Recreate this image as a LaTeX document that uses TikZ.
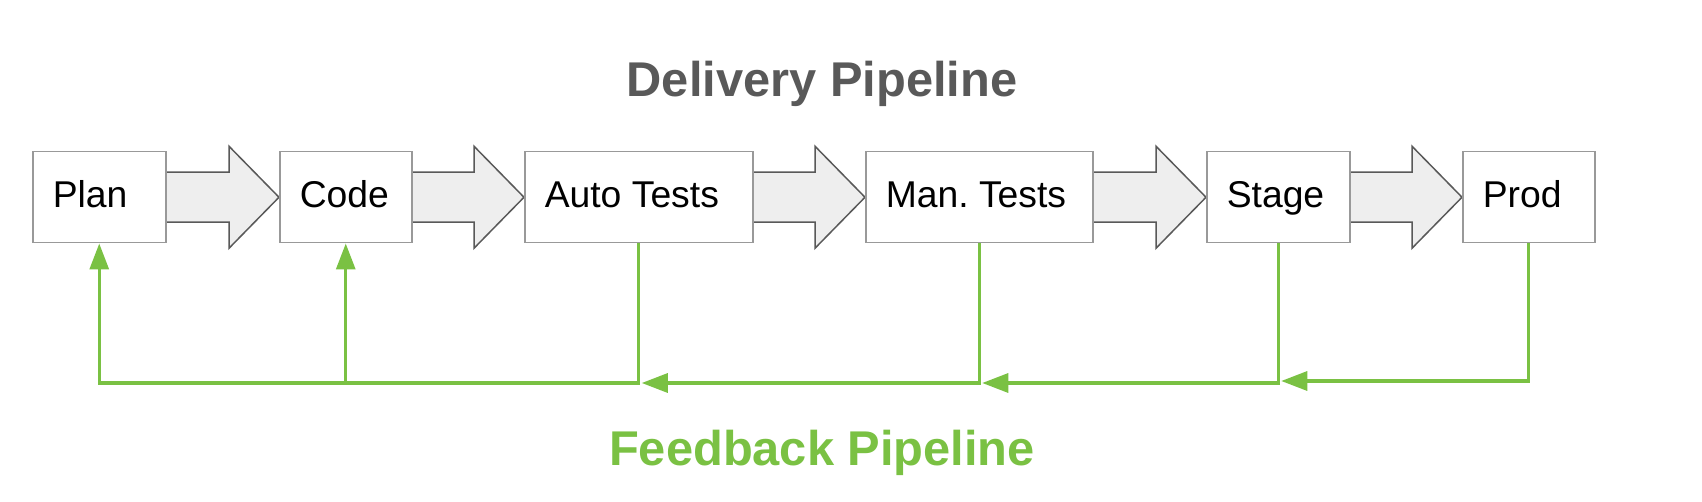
\documentclass[tikz,border=0pt]{standalone}
\usepackage{fontspec}
\setmainfont{Liberation Sans}
\usetikzlibrary{arrows.meta,calc}
\definecolor{boxgray}{HTML}{999999}
\definecolor{arrowgray}{HTML}{595959}
\definecolor{arrowfill}{HTML}{EEEEEE}
\definecolor{titlegray}{HTML}{595959}
\definecolor{fbgreen}{HTML}{7AC143}
\pgfdeclarelayer{background}
\pgfdeclarelayer{canvas}
\pgfsetlayers{canvas,background,main}
\frenchspacing
\tikzset{
  stagebox/.style={draw=boxgray, line width=1.5pt, fill=white, anchor=north west,
    inner xsep=20pt, inner ysep=0pt, text height=27pt, text depth=6pt,
    minimum height=91pt, align=flush left, font=\fontsize{37.3}{44}\selectfont, text width=#1},
  blockarrow/.style={draw=arrowgray, fill=arrowfill, line width=1.5pt, line join=miter},
  fb/.style={draw=fbgreen, line width=3.2pt, line join=miter},
  fbarrow/.style={fb, -{Triangle[length=26pt,width=19pt]}},
  titletext/.style={font=\bfseries\fontsize{48.8}{58}\selectfont, anchor=base}
}
\newcommand\blockarr[2]{%
  \draw[blockarrow] ($(#1.east)+(0,-25)$) -- ($(#2.west)+(-50,-25)$) -- ($(#2.west)+(-50,-51)$) -- (#2.west) -- ($(#2.west)+(-50,51)$) -- ($(#2.west)+(-50,25)$) -- ($(#1.east)+(0,25)$);}
\begin{document}
\begin{tikzpicture}[x=1pt,y=-1pt]
\begin{pgfonlayer}{canvas}
\fill[white] (0,0) rectangle (1702,502);
\end{pgfonlayer}
\useasboundingbox (0,0) rectangle (1702,502);

\node[stagebox=93pt]  (plan)  at (32,151)   {Plan};
\node[stagebox=92pt]  (code)  at (279,151)  {Code};
\node[stagebox=188pt] (auto)  at (524,151)  {Auto Tests};
\node[stagebox=187pt] (man)   at (865,151)  {Man. Tests};
\node[stagebox=103pt] (stage) at (1206,151) {Stage};
\node[stagebox=92pt]  (prod)  at (1462,151) {Prod};

\begin{pgfonlayer}{background}
\blockarr{plan}{code}
\blockarr{code}{auto}
\blockarr{auto}{man}
\blockarr{man}{stage}
\blockarr{stage}{prod}
\end{pgfonlayer}

\node[titletext, text=titlegray] (dtitle) at (822,97) {Delivery Pipeline};
\node[titletext, text=fbgreen] (ftitle) at (822,465) {Feedback Pipeline};

\coordinate (fbY) at (0,383);
\coordinate (fbY2) at (0,381);
\draw[fbarrow] (auto.south) -- (auto.south |- fbY) -- (plan.south |- fbY) -- (plan.south);
\draw[fbarrow] (code.south |- fbY) -- (code.south);
\draw[fbarrow] (man.south) -- (man.south |- fbY) -- ($(auto.south |- fbY)+(3,0)$);
\draw[fbarrow] (stage.south) -- (stage.south |- fbY) -- ($(man.south |- fbY)+(3,0)$);
\draw[fbarrow] (prod.south) -- (prod.south |- fbY2) -- ($(stage.south |- fbY2)+(3,0)$);
\end{tikzpicture}
\end{document}
